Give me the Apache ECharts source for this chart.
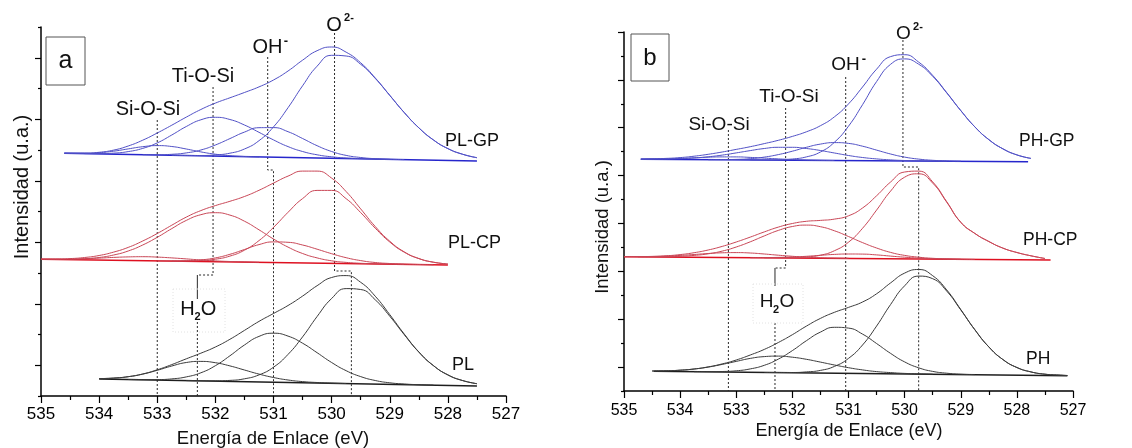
<!DOCTYPE html>
<html>
<head>
<meta charset="utf-8">
<script src="https://cdn.jsdelivr.net/npm/echarts@6/dist/echarts.min.js"></script>
<style>
  html, body { margin: 0; padding: 0; background: #fff; }
  #chart { width: 1132px; height: 448px; }
</style>
</head>
<body>
<div id="chart"></div>
<script>
// O 1s XPS spectra, binding energy (eV) vs intensity (u.a., stacked offsets)

// ---- panel a: PL-GP ----
const energyPlGp = [534.6, 534.25, 534.0, 533.75, 533.5, 533.25, 533.0, 532.75, 532.5, 532.25, 532.0, 531.75, 531.5, 531.25, 531.0, 530.75, 530.5, 530.25, 530.0, 529.75, 529.5, 529.25, 529.0, 528.75, 528.5, 528.25, 528.0, 527.75, 527.5];
const plGpEnvelope = [242.8, 242.9, 243.7, 245.9, 250.0, 255.8, 263.0, 270.8, 278.9, 286.5, 292.9, 298.2, 303.5, 309.1, 316.0, 325.0, 335.8, 345.3, 349.0, 343.8, 333.2, 318.1, 300.7, 283.4, 268.2, 256.1, 247.4, 241.8, 238.3];
const plGpSiOSi = [242.8, 242.8, 243.3, 244.8, 247.1, 249.3, 250.4, 249.5, 247.0, 244.1, 241.8, 240.3, 239.5, 239.1];
const plGpTiOSi = [242.4, 242.4, 242.85, 244.4, 247.6, 253.1, 261.0, 269.5, 276.2, 278.7, 276.5, 271.0, 263.7, 256.1, 249.4, 244.5, 241.2, 239.2, 238.0, 237.4, 237.0, 236.6];
const plGpOH = [241.3, 241.25, 241.7, 243.1, 246.0, 251.0, 257.4, 263.9, 268.3, 268.4, 264.3, 257.5, 250.3, 244.5, 240.6, 238.5, 237.3, 236.7, 236.4];
const plGpO2 = [240.7, 240.5, 240.5, 241.1, 242.8, 247.0, 255.3, 269.1, 288.3, 310.2, 329.8, 340.7, 340.0, 331.7, 317.6, 300.6, 283.4, 268.2, 256.1, 247.4, 241.8, 238.3];
const plGpBaseline = [[534.6, 242.7], [527.5, 235.0]];

// ---- panel a: PL-CP ----
const energyPlCp = [535.0, 534.75, 534.5, 534.25, 534.0, 533.75, 533.5, 533.25, 533.0, 532.75, 532.5, 532.25, 532.0, 531.75, 531.5, 531.25, 531.0, 530.75, 530.5, 530.25, 530.0, 529.75, 529.5, 529.25, 529.0, 528.75, 528.5, 528.25, 528.0];
const plCpEnvelope = [136.9, 137.0, 137.4, 138.5, 140.5, 143.9, 148.6, 155.0, 162.5, 170.8, 178.9, 185.4, 190.4, 194.7, 199.5, 205.7, 212.9, 219.9, 224.9, 224.9, 217.9, 204.4, 187.1, 169.5, 154.8, 144.1, 137.5, 133.8, 132.0];
const plCpSiOSi = [136.8, 136.8, 136.9, 137.3, 137.9, 138.6, 139.1, 139.3, 138.9, 138.1, 137.1, 136.0, 135.1, 134.5, 134.1, 133.7];
const plCpTiOSi = [136.8, 137.3, 138.5, 141.0, 145.0, 151.0, 158.7, 167.4, 175.6, 181.3, 183.3, 180.9, 174.8, 166.2, 157.0, 148.9, 142.5, 138.1, 135.2, 133.6, 132.7, 132.2, 131.9, 131.6];
const plCpOH = [135.1, 135.1, 135.3, 136.1, 138.1, 141.7, 146.5, 151.4, 154.1, 153.7, 151.0, 146.8, 142.3, 138.3, 135.4, 133.5, 132.5, 131.9, 131.5, 131.2];
const plCpO2 = [134.9, 135.0, 135.5, 136.8, 139.9, 145.8, 155.4, 168.6, 183.7, 197.4, 205.6, 205.6, 197.3, 183.4, 167.8, 154.0, 143.8, 137.4, 133.8, 132.0];
const plCpBaseline = [[535.0, 136.7], [528.0, 131.0]];

// ---- panel a: PL ----
const energyPl = [534.0, 533.75, 533.5, 533.25, 533.0, 532.75, 532.5, 532.25, 532.0, 531.75, 531.5, 531.25, 531.0, 530.75, 530.5, 530.25, 530.0, 529.75, 529.5, 529.25, 529.0, 528.75, 528.5, 528.25, 528.0, 527.75, 527.5];
const plEnvelope = [17.4, 17.9, 19.3, 22.0, 26.2, 31.4, 37.2, 42.8, 49.0, 56.7, 65.6, 74.6, 82.5, 90.5, 99.9, 110.3, 118.5, 120.4, 113.7, 99.8, 81.4, 61.9, 44.1, 30.5, 21.1, 15.5, 12.3];
const plH2O = [17.4, 17.9, 19.3, 21.9, 25.7, 30.0, 33.5, 34.6, 33.3, 30.1, 26.0, 21.9, 18.5, 16.0, 14.4, 13.5, 12.9, 12.5];
const plOH = [16.5, 16.3, 16.4, 17.1, 19.1, 23.2, 30.3, 40.2, 51.0, 59.6, 62.8, 59.9, 52.8, 43.3, 33.5, 25.3, 19.4, 15.5, 13.2, 12.0, 11.3, 10.9];
const plO2 = [15.4, 15.2, 15.2, 15.6, 17.2, 21.1, 28.8, 41.6, 59.1, 79.5, 97.5, 107.4, 106.5, 96.2, 79.8, 61.3, 43.9, 30.4, 21.1, 15.5, 12.3];
const plBaseline = [[534.0, 17.0], [527.5, 10.0]];

// ---- panel b: PH-GP ----
const energyPhGp = [534.7, 534.5, 534.25, 534.0, 533.75, 533.5, 533.25, 533.0, 532.75, 532.5, 532.25, 532.0, 531.75, 531.5, 531.25, 531.0, 530.75, 530.5, 530.25, 530.0, 529.75, 529.5, 529.25, 529.0, 528.75, 528.5, 528.25, 528.0, 527.75];
const phGpEnvelope = [231.9, 232.2, 232.6, 233.4, 234.8, 236.7, 239.0, 241.6, 244.3, 247.4, 250.7, 254.6, 259.2, 265.3, 274.2, 287.1, 304.0, 321.8, 334.4, 336.3, 328.9, 315.6, 298.4, 280.5, 264.2, 251.4, 242.2, 236.1, 232.6];
const phGpSiOSi = [231.8, 232.0, 232.2, 232.6, 233.2, 233.8, 234.1, 234.1, 233.6, 232.9, 232.1, 231.5, 231.0, 230.7, 230.5];
const phGpTiOSi = [231.8, 231.9, 232.0, 232.3, 233.0, 234.2, 235.9, 238.1, 240.4, 242.5, 243.7, 243.7, 242.5, 240.5, 238.0, 235.5, 233.5, 232.1, 231.1, 230.5, 230.2, 230.0, 229.8];
const phGpOH = [231.3, 231.4, 231.6, 232.3, 233.9, 236.4, 239.8, 243.7, 246.9, 248.4, 247.6, 244.8, 240.9, 237.0, 233.9, 231.9, 230.7, 230.1, 229.8];
const phGpO2 = [231.0, 231.05, 231.2, 232.0, 234.1, 239.0, 248.8, 264.8, 286.3, 309.4, 326.7, 332.1, 326.8, 314.7, 298.1, 280.4, 264.2, 251.4, 242.2, 236.1, 232.6];
const phGpBaseline = [[534.7, 231.7], [527.8, 229.3]];

// ---- panel b: PH-CP ----
const energyPhCp = [535.0, 534.75, 534.5, 534.25, 534.0, 533.75, 533.5, 533.25, 533.0, 532.75, 532.5, 532.25, 532.0, 531.75, 531.5, 531.25, 531.0, 530.75, 530.5, 530.25, 530.0, 529.75, 529.5, 529.25, 529.0, 528.75, 528.5, 528.25, 528.0, 527.75, 527.5];
const phCpEnvelope = [134.4, 134.4, 134.6, 135.2, 136.4, 138.3, 141.0, 144.6, 149.0, 153.9, 159.1, 163.9, 167.5, 169.7, 170.6, 171.9, 175.2, 183.0, 195.2, 209.0, 219.0, 219.9, 209.1, 189.3, 168.8, 157.6, 149.5, 142.9, 138.5, 135.2, 132.5];
const phCpSiOSi = [134.4, 134.4, 134.5, 134.9, 135.6, 136.5, 137.5, 138.2, 138.4, 138.0, 137.0, 135.8, 134.7, 133.8, 133.2, 132.9, 132.7];
const phCpTiOSi = [134.2, 134.2, 134.3, 134.7, 135.6, 137.2, 139.9, 144.0, 149.2, 155.1, 160.6, 164.5, 165.9, 164.3, 160.2, 154.5, 148.4, 143.0, 138.6, 135.6, 133.8, 132.7, 132.1, 131.8, 131.6];
const phCpOH = [133.3, 133.4, 133.6, 134.0, 134.7, 135.7, 136.6, 137.0, 136.9, 136.1, 134.9, 133.8, 132.9, 132.3, 132.0, 131.7];
const phCpO2 = [133.2, 133.2, 133.3, 134.0, 135.8, 140.3, 148.8, 162.7, 180.9, 199.9, 213.8, 217.2, 207.9, 188.8, 168.7, 157.6, 149.5, 142.9, 138.5, 135.2, 132.5];
const phCpBaseline = [[535.0, 134.3], [527.4, 131.0]];

// ---- panel b: PH ----
const energyPh = [534.5, 534.25, 534.0, 533.75, 533.5, 533.25, 533.0, 532.75, 532.5, 532.25, 532.0, 531.75, 531.5, 531.25, 531.0, 530.75, 530.5, 530.25, 530.0, 529.75, 529.5, 529.25, 529.0, 528.75, 528.5, 528.25, 528.0, 527.75, 527.5, 527.25, 527.1];
const phEnvelope = [20.0, 20.2, 20.8, 22.0, 24.1, 27.1, 31.0, 36.0, 41.6, 48.5, 56.3, 64.9, 72.6, 78.7, 83.6, 89.0, 97.2, 108.1, 117.9, 121.5, 115.3, 101.1, 81.5, 61.4, 44.1, 31.5, 23.5, 19.1, 16.8, 15.9, 15.5];
const phH2O = [20.0, 20.2, 20.8, 22.0, 23.9, 26.6, 29.6, 32.6, 34.4, 34.9, 33.8, 31.7, 28.9, 26.0, 23.3, 21.1, 19.4, 18.4, 17.6, 17.2, 16.8];
const phOH = [19.3, 19.3, 19.5, 20.2, 22.1, 25.7, 31.9, 40.4, 50.3, 58.9, 63.7, 62.9, 56.9, 47.5, 37.6, 29.1, 23.2, 19.6, 17.8, 16.8, 16.4];
const phO2 = [18.5, 18.5, 18.5, 19.1, 20.6, 24.6, 32.6, 46.0, 64.9, 86.5, 105.2, 114.9, 112.3, 99.9, 81.1, 61.3, 44.1, 31.5, 23.5, 19.1, 16.8, 15.9, 15.5];
const phBaseline = [[534.47, 19.7], [527.1, 15.3]];

// peak position guides [eV, intensity]
const guidesA = {
  siOSi: [[533.0, 276], [533.0, 0]],
  tiOSi: [[532.04, 309], [532.04, 121], [532.31, 121]],
  h2oLead: [[532.31, 121], [532.31, 97]],
  h2o: [[532.31, 74], [532.31, 0]],
  oh: [[531.1, 339], [531.1, 226], [531.0, 226], [531.0, 0]],
  o2: [[529.95, 363], [529.95, 125], [529.66, 125], [529.66, 0]]
};
const guidesB = {
  siOSi: [[533.14, 261], [533.14, 0]],
  tiOSi: [[532.12, 283], [532.12, 123], [532.31, 123]],
  h2oLead: [[532.31, 123], [532.31, 105]],
  h2o: [[532.31, 68], [532.31, 0]],
  oh: [[531.05, 314], [531.05, 0]],
  o2: [[530.03, 351], [530.03, 224], [529.75, 224], [529.75, 0]]
};

// y tick positions (no labels on this axis)
const yMaxA = 369;
const yMaxB = 359;
const ticksALong = [30.75, 92.25, 153.75, 215.25, 276.75, 338.25];
const ticksAShort = [0, 61.5, 123, 184.5, 246, 307.5, 369];
const ticksBLong = [23.93, 71.8, 119.67, 167.53, 215.4, 263.27, 311.13, 359];
const ticksBShort = [0, 47.87, 95.73, 143.6, 191.47, 239.33, 287.2, 335.07];

const FONT = '"Liberation Sans", Arial, sans-serif';
const BLUE = '#5050c6', BLUE_BASE = '#2626cc';
const RED = '#c94656', RED_BASE = '#de1020';
const BLACK = '#3a3a3a', BLACK_BASE = '#1e1e1e';

function seg(energies, start, values) {
  return values.map((v, i) => [energies[start + i], v]);
}

function curve(panel, data, color, width) {
  return {
    type: 'line', xAxisIndex: panel, yAxisIndex: panel * 2,
    data: data, symbol: 'none', smooth: 0.5,
    lineStyle: { color: color, width: width || 1 },
    silent: true, z: 3
  };
}

function guide(panel, data, solid) {
  return {
    type: 'line', xAxisIndex: panel, yAxisIndex: panel * 2,
    data: data, symbol: 'none',
    lineStyle: { color: '#2a2a2a', width: 1, type: solid ? 'solid' : [2, 2] },
    silent: true, z: 2
  };
}

const spectra = [
  { panel: 0, color: BLUE, base: BLUE_BASE, e: energyPlGp, env: plGpEnvelope, baseline: plGpBaseline,
    parts: [[0, plGpSiOSi], [1, plGpTiOSi], [5, plGpOH], [7, plGpO2]] },
  { panel: 0, color: RED, base: RED_BASE, e: energyPlCp, env: plCpEnvelope, baseline: plCpBaseline,
    parts: [[0, plCpSiOSi], [2, plCpTiOSi], [8, plCpOH], [9, plCpO2]] },
  { panel: 0, color: BLACK, base: BLACK_BASE, e: energyPl, env: plEnvelope, baseline: plBaseline,
    parts: [[0, plH2O], [2, plOH], [6, plO2]] },
  { panel: 1, color: BLUE, base: BLUE_BASE, e: energyPhGp, env: phGpEnvelope, baseline: phGpBaseline,
    parts: [[0, phGpSiOSi], [0, phGpTiOSi], [5, phGpOH], [8, phGpO2]] },
  { panel: 1, color: RED, base: RED_BASE, e: energyPhCp, env: phCpEnvelope, baseline: phCpBaseline,
    parts: [[0, phCpSiOSi], [1, phCpTiOSi], [9, phCpOH], [10, phCpO2]] },
  { panel: 1, color: BLACK, base: BLACK_BASE, e: energyPh, env: phEnvelope, baseline: phBaseline,
    parts: [[0, phH2O], [3, phOH], [8, phO2]] }
];

const series = [];
spectra.forEach(s => {
  series.push(curve(s.panel, s.baseline, s.base, 1.4));
  s.parts.forEach(p => series.push(curve(s.panel, seg(s.e, p[0], p[1]), s.color, 1)));
  series.push(curve(s.panel, seg(s.e, 0, s.env), s.color, 1));
});
[guidesA, guidesB].forEach((g, panel) => {
  series.push(guide(panel, g.siOSi));
  series.push(guide(panel, g.tiOSi));
  series.push(guide(panel, g.h2oLead, true));
  series.push(guide(panel, g.h2o));
  series.push(guide(panel, g.oh));
  series.push(guide(panel, g.o2));
});

function xAxisFor(panel, fontSize, margin) {
  return {
    type: 'value', gridIndex: panel, min: 527, max: 535, interval: 1, inverse: true,
    axisLine: { show: true, onZero: false, lineStyle: { color: '#000', width: 1.5 } },
    axisTick: { show: true, length: 7, lineStyle: { color: '#000', width: 1.2 } },
    minorTick: { show: true, splitNumber: 2, length: 4, lineStyle: { color: '#000', width: 1.2 } },
    axisLabel: { color: '#000', fontSize: fontSize, margin: margin, fontFamily: FONT },
    splitLine: { show: false }, minorSplitLine: { show: false }
  };
}

function yAxesFor(panel, max, longTicks, shortTicks) {
  return [
    { type: 'value', gridIndex: panel, min: 0, max: max,
      axisLine: { show: true, onZero: false, lineStyle: { color: '#000', width: 1.5 } },
      axisTick: { show: true, customValues: longTicks, length: 6, lineStyle: { color: '#000', width: 1.2 } },
      axisLabel: { show: false }, splitLine: { show: false } },
    { type: 'value', gridIndex: panel, min: 0, max: max, position: 'left', offset: 0,
      axisLine: { show: false },
      axisTick: { show: true, customValues: shortTicks, length: 3, lineStyle: { color: '#000', width: 1.2 } },
      axisLabel: { show: false }, splitLine: { show: false } }
  ];
}

function label(text, x, y, size, opts) {
  return Object.assign({
    type: 'text', x: x, y: y, silent: true, z: 10,
    style: { text: text, fontSize: size, fontFamily: FONT, fill: '#111',
             align: 'center', verticalAlign: 'middle' }
  }, opts || {});
}

function leftLabel(text, x, y, size) {
  const l = label(text, x, y, size);
  l.style.align = 'left';
  return l;
}

const graphics = [
  // panel letters
  { type: 'rect', shape: { x: 46, y: 37, width: 39, height: 48 }, style: { fill: '#fff', stroke: '#555', lineWidth: 1 }, z: 9 },
  label('a', 65.5, 61, 25),
  { type: 'rect', shape: { x: 631, y: 34, width: 38, height: 47 }, style: { fill: '#fff', stroke: '#555', lineWidth: 1 }, z: 9 },
  label('b', 650, 58, 24),

  // panel a annotations
  label('Si-O-Si', 148, 109.5, 20),
  label('Ti-O-Si', 203, 76, 20),
  label('OH', 267.5, 47, 20),
  label('-', 286, 41, 13),
  label('O', 334, 25, 20),
  label('2-', 349, 18, 11),
  { type: 'rect', shape: { x: 173, y: 289, width: 52, height: 43 }, style: { fill: 'none', stroke: '#e2e2e2', lineWidth: 1, lineDash: [1, 2] }, z: 8 },
  label('H', 187.5, 309, 20),
  label('2', 197.5, 317, 11),
  label('O', 208.5, 309, 20),
  leftLabel('PL-GP', 445, 141.5, 18),
  leftLabel('PL-CP', 448, 243, 18),
  leftLabel('PL', 452, 365.5, 18),

  // panel b annotations
  label('Si-O-Si', 719, 125, 19),
  label('Ti-O-Si', 789, 96.5, 19),
  label('OH', 845.5, 65, 19),
  label('-', 864, 59, 13),
  label('O', 903.5, 33.5, 19),
  label('2-', 918, 27, 11),
  { type: 'rect', shape: { x: 753, y: 284, width: 50, height: 39 }, style: { fill: 'none', stroke: '#e2e2e2', lineWidth: 1, lineDash: [1, 2] }, z: 8 },
  label('H', 766.5, 302, 19),
  label('2', 776, 310, 11),
  label('O', 787, 302, 19),
  leftLabel('PH-GP', 1019, 141.5, 17.5),
  leftLabel('PH-CP', 1023, 240, 17.5),
  leftLabel('PH', 1026, 359, 17.5),

  // axis titles
  label('Energía de Enlace (eV)', 273, 439, 18.5),
  label('Energía de Enlace (eV)', 849, 431, 18),
  label('Intensidad (u.a.)', 22, 187, 20, { rotation: Math.PI / 2 }),
  label('Intensidad (u.a.)', 603, 227, 18.5, { rotation: Math.PI / 2 })
];
// bold superscripts / subscripts
graphics.forEach(g => {
  if (g.type === 'text' && (g.style.text === '-' || g.style.text === '2-' || g.style.text === '2')) {
    g.style.fontWeight = 'bold';
  }
});

const chart = echarts.init(document.getElementById('chart'), null, { renderer: 'canvas' });
chart.setOption({
  backgroundColor: '#fff',
  animation: false,
  grid: [
    { left: 41, top: 27, width: 465, height: 369 },
    { left: 624, top: 32, width: 449, height: 359 }
  ],
  xAxis: [xAxisFor(0, 17, 10), xAxisFor(1, 16, 12)],
  yAxis: yAxesFor(0, yMaxA, ticksALong, ticksAShort).concat(yAxesFor(1, yMaxB, ticksBLong, ticksBShort)),
  series: series,
  graphic: graphics
});
</script>
</body>
</html>
